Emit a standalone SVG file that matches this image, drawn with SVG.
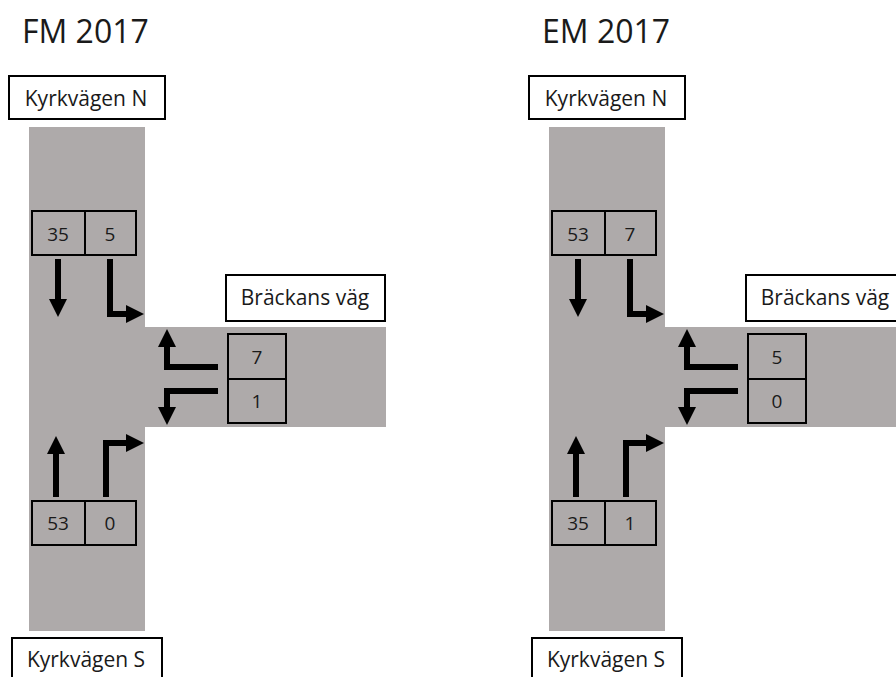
<svg xmlns="http://www.w3.org/2000/svg" width="896" height="677" viewBox="0 0 896 677">
<style>
  text { font-family: "Open Sans", "Noto Sans", "Liberation Sans", sans-serif; fill: #1a1a1a; }
  .title { font-size: 32px; }
  .lbl { font-size: 21px; text-anchor: middle; }
  .num { font-size: 19px; text-anchor: middle; }
  .road { fill: #AEAAAA; }
  .cell { fill: #AEAAAA; stroke: #000; stroke-width: 2; }
  .lblbox { fill: #fff; stroke: #000; stroke-width: 2; }
  .arr { fill: none; stroke: #000; stroke-width: 6; stroke-linejoin: miter; marker-end: url(#ah); }
</style>
<defs>
  <marker id="ah" viewBox="0 0 18 18" refX="1" refY="9" markerWidth="18" markerHeight="18" markerUnits="userSpaceOnUse" orient="auto">
    <path d="M0,0 L18,9 L0,18 z" fill="#000"/>
  </marker>
</defs>

<g id="panel-fm">
  <text class="title" x="22" y="43">FM 2017</text>
  <rect class="road" x="29" y="127" width="116" height="504"/>
  <rect class="road" x="145" y="327" width="241" height="100"/>
  <g id="fm-kyrk-n"><rect class="lblbox" x="9" y="76" width="156" height="43"/><text class="lbl" x="86" y="106">Kyrkvägen N</text></g>
  <g id="fm-brackan"><rect class="lblbox" x="226" y="275" width="159" height="46"/><text class="lbl" x="305" y="305">Bräckans väg</text></g>
  <g id="fm-kyrk-s"><rect class="lblbox" x="12" y="638" width="150" height="50"/><text class="lbl" x="86" y="667">Kyrkvägen S</text></g>
  <g id="fm-n-straight"><rect class="cell" x="32" y="211" width="53" height="44"/><text class="num" x="58" y="241">35</text></g>
  <g id="fm-n-left"><rect class="cell" x="85" y="211" width="51" height="44"/><text class="num" x="110" y="241">5</text></g>
  <g id="fm-e-right"><rect class="cell" x="228" y="334" width="58" height="45"/><text class="num" x="257" y="364">7</text></g>
  <g id="fm-e-left"><rect class="cell" x="228" y="379" width="58" height="44"/><text class="num" x="257" y="408">1</text></g>
  <g id="fm-s-straight"><rect class="cell" x="32" y="501" width="53" height="44"/><text class="num" x="58" y="530">53</text></g>
  <g id="fm-s-right"><rect class="cell" x="85" y="501" width="51" height="44"/><text class="num" x="110" y="530">0</text></g>
  <g id="fm-connectors">
    <path class="arr" d="M58,259 V300"/>
    <path class="arr" d="M110,259 V314 H127"/>
    <path class="arr" d="M218,367 H167 V346"/>
    <path class="arr" d="M218,391 H167 V408"/>
    <path class="arr" d="M56,497 V453"/>
    <path class="arr" d="M106,497 V443 H127"/>
  </g>
</g>

<g id="panel-em" transform="translate(520,0)">
  <text class="title" x="22" y="43">EM 2017</text>
  <rect class="road" x="29" y="127" width="116" height="504"/>
  <rect class="road" x="145" y="327" width="241" height="100"/>
  <g id="em-kyrk-n"><rect class="lblbox" x="9" y="76" width="156" height="43"/><text class="lbl" x="86" y="106">Kyrkvägen N</text></g>
  <g id="em-brackan"><rect class="lblbox" x="226" y="275" width="159" height="46"/><text class="lbl" x="305" y="305">Bräckans väg</text></g>
  <g id="em-kyrk-s"><rect class="lblbox" x="12" y="638" width="150" height="50"/><text class="lbl" x="86" y="667">Kyrkvägen S</text></g>
  <g id="em-n-straight"><rect class="cell" x="32" y="211" width="53" height="44"/><text class="num" x="58" y="241">53</text></g>
  <g id="em-n-left"><rect class="cell" x="85" y="211" width="51" height="44"/><text class="num" x="110" y="241">7</text></g>
  <g id="em-e-right"><rect class="cell" x="228" y="334" width="58" height="45"/><text class="num" x="257" y="364">5</text></g>
  <g id="em-e-left"><rect class="cell" x="228" y="379" width="58" height="44"/><text class="num" x="257" y="408">0</text></g>
  <g id="em-s-straight"><rect class="cell" x="32" y="501" width="53" height="44"/><text class="num" x="58" y="530">35</text></g>
  <g id="em-s-right"><rect class="cell" x="85" y="501" width="51" height="44"/><text class="num" x="110" y="530">1</text></g>
  <g id="em-connectors">
    <path class="arr" d="M58,259 V300"/>
    <path class="arr" d="M110,259 V314 H127"/>
    <path class="arr" d="M218,367 H167 V346"/>
    <path class="arr" d="M218,391 H167 V408"/>
    <path class="arr" d="M56,497 V453"/>
    <path class="arr" d="M106,497 V443 H127"/>
  </g>
</g>
</svg>
